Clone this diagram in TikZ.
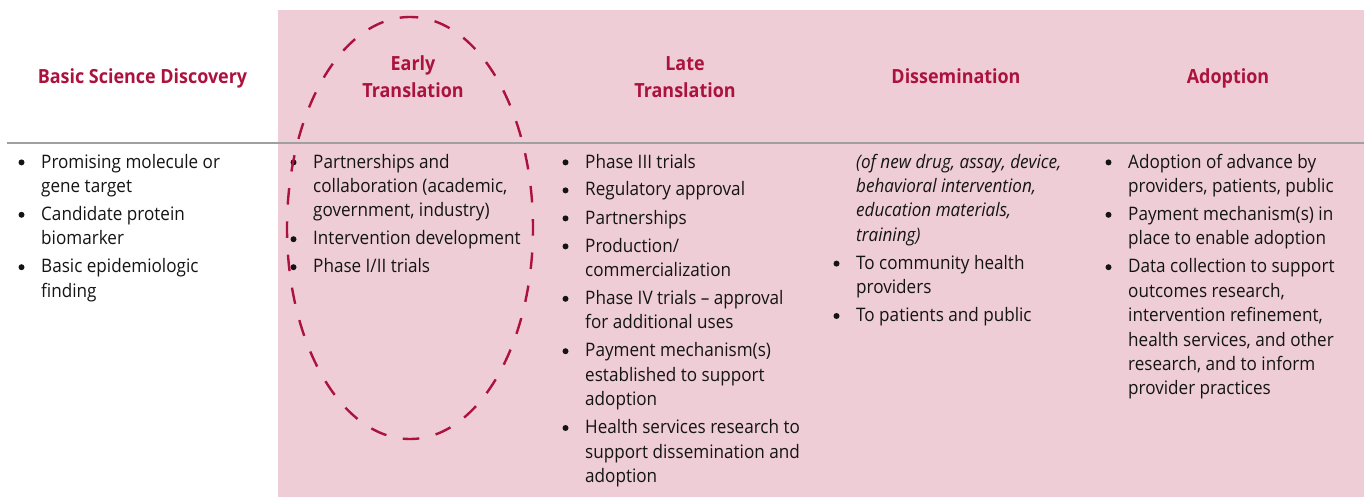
\documentclass[tikz,border=0pt]{standalone}
\usepackage{fontspec}
\setmainfont{Open Sans}[FakeStretch=0.92]
\definecolor{pinkbg}{RGB}{238,205,214}
\definecolor{crim}{RGB}{172,18,62}
\definecolor{rulegray}{RGB}{160,160,160}
\definecolor{txt}{RGB}{20,20,20}
\newcommand\bodyf{\fontsize{18.6}{24.4}\selectfont}
\newcommand\hdrf{\fontsize{19.5}{27}\selectfont\bfseries}
% #1 name, #2 text x, #3 first baseline, #4 number of lines, #5 text
\newcommand\bitem[5]{%
  \node[bul] (#1b) at (#2-19.5,#3-5.6) {};
  \node[body] (#1) at (#2,#3+#4*24.4-24.4) {#5};}
\begin{document}
\begin{tikzpicture}[x=1pt,y=-1pt,
  body/.style={anchor=base west, align=left, inner sep=0pt, font=\bodyf, text=txt},
  bul/.style={circle, fill=txt, inner sep=0pt, minimum size=6pt},
  hdr/.style={anchor=base, align=center, inner sep=0pt, font=\hdrf, text=crim},
  ring/.style={draw=crim, line width=2.4pt, dash pattern=on 16.5pt off 16.8pt, dash phase=8.25pt}]
\useasboundingbox (0,0) rectangle (1364,497);
\fill[pinkbg] (278,10) rectangle (1364,497);
\draw[rulegray, line width=1.4pt] (7,143) -- (1364,143);
% headers
\node[hdr] (h1) at (142.5,83.5) {Basic Science Discovery};
\node[hdr] (h2) at (413,97.7) {Early\\Translation};
\node[hdr] (h3) at (685,97.7) {Late\\Translation};
\node[hdr] (h4) at (956,83.5) {Dissemination};
\node[hdr] (h5) at (1228,83.5) {Adoption};
% column 1
\bitem{a1}{41}{168}{2}{Promising molecule or\\gene target}
\bitem{a2}{41}{220.4}{2}{Candidate protein\\biomarker}
\bitem{a3}{41}{272.8}{2}{Basic epidemiologic\\finding}
% column 2
\bitem{b1}{313}{168}{3}{Partnerships and\\collaboration (academic,\\government, industry)}
\bitem{b2}{313}{244.8}{1}{Intervention development}
\bitem{b3}{313}{272.8}{1}{Phase I/II trials}
% column 3
\bitem{c1}{585}{168}{1}{Phase III trials}
\bitem{c2}{585}{196}{1}{Regulatory approval}
\bitem{c3}{585}{224}{1}{Partnerships}
\bitem{c4}{585}{252}{2}{Production/\\commercialization}
\bitem{c5}{585}{304.4}{2}{Phase IV trials -- approval\\for additional uses}
\bitem{c6}{585}{356.8}{3}{Payment mechanism(s)\\established to support\\adoption}
\bitem{c7}{585}{433.6}{3}{Health services research to\\support dissemination and\\adoption}
% column 4
\node[body, font=\bodyf\itshape] (d0) at (856,241.2) {(of new drug, assay, device,\\behavioral intervention,\\education materials,\\training)};
\bitem{d1}{856}{269.2}{2}{To community health\\providers}
\bitem{d2}{856}{321.6}{1}{To patients and public}
% column 5
\bitem{e1}{1128}{168}{2}{Adoption of advance by\\providers, patients, public}
\bitem{e2}{1128}{220.4}{2}{Payment mechanism(s) in\\place to enable adoption}
\bitem{e3}{1128}{272.8}{6}{Data collection to support\\outcomes research,\\intervention refinement,\\health services, and other\\research, and to inform\\provider practices}
% dashed ellipse
\draw[ring] (410,17) arc[start angle=-90, end angle=270, x radius=123, y radius=211];
\end{tikzpicture}
\end{document}
